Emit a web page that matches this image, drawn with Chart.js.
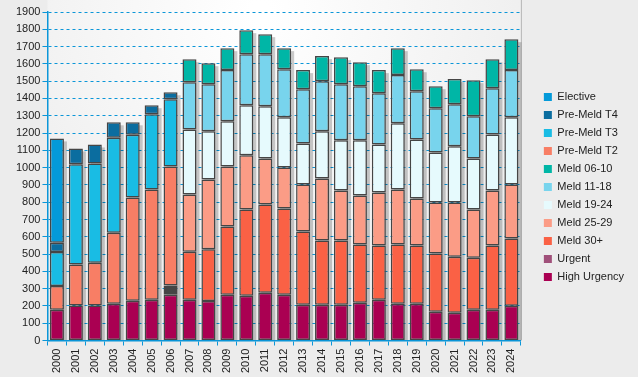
<!DOCTYPE html>
<html>
<head>
<meta charset="utf-8">
<script src="https://cdn.jsdelivr.net/npm/chart.js@4.4.1/dist/chart.umd.min.js"></script>
<style>
  html,body{margin:0;padding:0;background:#ececec;}
  #wrap{width:638px;height:377px;}
</style>
</head>
<body>
<div id="wrap"><canvas id="c" width="638" height="377"></canvas></div>
<script>
// waiting list by category, per year
const years = ['2000','2001','2002','2003','2004','2005','2006','2007','2008','2009','2010','2011','2012',
  '2013','2014','2015','2016','2017','2018','2019','2020','2021','2022','2023','2024'];

const highUrgency = [178,203,203,213,230,236,265,236,228,265,259,277,265,207,207,207,219,236,213,213,166,160,178,178,201];
const urgent      = [null,null,null,null,null,null,null,null,null,null,null,null,null,null,null,null,null,null,null,null,null,null,null,null,null];
const meld30      = [null,null,null,null,null,null,10,278,300,394,499,510,499,423,371,371,336,313,342,336,337,325,301,371,389];
const meld2529    = [null,null,null,null,null,null,6,331,404,348,313,266,237,273,359,290,284,307,319,273,295,313,279,319,313];
const meld1924    = [null,null,null,null,null,null,17,376,278,261,290,302,290,237,273,290,319,278,382,341,290,325,295,324,388];
const meld1118    = [null,null,null,null,null,null,12,273,272,296,295,301,278,313,290,324,313,296,279,279,255,243,244,267,273];
const meld0610    = [null,null,null,null,null,null,8,133,122,127,139,116,122,111,145,157,139,134,156,127,128,146,209,168,179];
const preMeldT2   = [137,236,247,411,597,638,689,null,null,null,null,null,null,null,null,null,null,null,null,null,null,null,null,null,null];
const preMeldT3   = [197,580,574,549,363,434,389,null,null,null,null,null,null,null,null,null,null,null,null,null,null,null,null,null,null];
const preMeldT4   = [54,92,110,89,72,53,40,null,null,null,null,null,null,null,null,null,null,null,null,null,null,null,null,null,null];
const elective    = [603,null,null,null,null,null,null,null,null,null,null,null,null,null,null,null,null,null,null,null,null,null,null,null,null];

const blue = '#0b96d8';

function ds(label, data, color){
  return {label, data, backgroundColor:color, borderColor:'#454545', borderWidth:1.5, borderSkipped:false,
    barPercentage:0.74, categoryPercentage:1.0, stack:'s'};
}

// background + panel gradient
const bgPlugin = {
  id:'bg',
  beforeDraw(chart){
    const {ctx, chartArea:a, width, height} = chart;
    ctx.save();
    ctx.fillStyle = '#ececec';
    ctx.fillRect(0,0,width,height);
    const g = ctx.createRadialGradient(a.left + (a.right-a.left)*0.45, a.top, 10, a.left + (a.right-a.left)*0.45, a.top, 420);
    g.addColorStop(0,'#ffffff');
    g.addColorStop(1,'#e6e6e6');
    ctx.fillStyle = g;
    ctx.fillRect(a.left, 0, a.right-a.left, a.bottom);
    ctx.strokeStyle = '#b4b4b4';
    ctx.lineWidth = 1;
    ctx.beginPath();
    ctx.moveTo(a.right+0.5, 0);
    ctx.lineTo(a.right+0.5, a.bottom);
    ctx.stroke();
    ctx.restore();
  }
};

// nudge legend block up a little
const legendShift = {
  id:'legendShift',
  afterLayout(chart){
    if(chart.legend){ chart.legend.top -= 7; chart.legend.bottom -= 7; }
  }
};

// drop shadow behind each stacked column
const shadowPlugin = {
  id:'shadow',
  beforeDatasetsDraw(chart){
    const ctx = chart.ctx;
    const metas = chart.getSortedVisibleDatasetMetas();
    ctx.save();
    ctx.fillStyle = 'rgba(0,0,0,0.2)';
    for(let i=0;i<years.length;i++){
      let top = Infinity, base = null, x = null, w = null;
      for(const m of metas){
        const el = m.data[i];
        if(!el || m._parsed[i] == null || m._parsed[i].y == null) continue;
        const p = el.getProps(['x','y','base','width'], true);
        if(isNaN(p.y)) continue;
        top = Math.min(top, p.y, p.base);
        base = Math.max(base ?? -Infinity, p.base, p.y);
        x = p.x; w = p.width;
      }
      if(x === null) continue;
      ctx.fillRect(x - w/2 + 3, top + 3, w, base - top - 3);
    }
    ctx.restore();
  }
};

const data = {
  labels: years,
  datasets: [
    ds('High Urgency', highUrgency, '#aa0052'),
    ds('Urgent', urgent, '#a0507a'),
    ds('Meld 30+', meld30, '#fa6145'),
    ds('Meld 25-29', meld2529, '#fb9c86'),
    ds('Meld 19-24', meld1924, '#e6fafd'),
    ds('Meld 11-18', meld1118, '#78d4ed'),
    ds('Meld 06-10', meld0610, '#00b6a6'),
    ds('Pre-Meld T2', preMeldT2, '#f87e65'),
    ds('Pre-Meld T3', preMeldT3, '#19bce4'),
    ds('Pre-Meld T4', preMeldT4, '#0b6d9f'),
    ds('Elective', elective, '#049ad9'),
  ]
};

const font = {family:'"Liberation Sans", Arial, sans-serif', size:11};

new Chart(document.getElementById('c'), {
  type:'bar',
  data,
  options:{
    responsive:false,
    animation:false,
    layout:{padding:{left:14, top:12, right:4, bottom:1}},
    plugins:{
      tooltip:{enabled:false},
      legend:{
        position:'right',
        reverse:true,
        labels:{
          font, color:'#222', boxWidth:8, boxHeight:8, padding:7,
          generateLabels(chart){
            const items = Chart.defaults.plugins.legend.labels.generateLabels(chart);
            items.forEach(it=>{ it.lineWidth = 0; it.strokeStyle = 'rgba(0,0,0,0)'; });
            return items;
          }
        }
      }
    },
    scales:{
      x:{
        stacked:true,
        grid:{offset:true, drawOnChartArea:false, color:blue, tickLength:5},
        border:{color:blue, width:1.5},
        ticks:{font, color:'#222', minRotation:90, maxRotation:90, padding:3}
      },
      y:{
        stacked:true, min:0, max:1900,
        ticks:{stepSize:100, font, color:'#222', padding:2, callback:v=>String(v)},
        grid:{color:blue, tickLength:5, tickBorderDash:[]},
        border:{color:blue, width:1.5, dash:[3,3]}
      },
      gap:{
        position:'right', display:true,
        grid:{display:false}, ticks:{display:false}, border:{display:false},
        afterFit(scale){ scale.width = 16; }
      }
    }
  },
  plugins:[bgPlugin, legendShift, shadowPlugin]
});
</script>
</body>
</html>
